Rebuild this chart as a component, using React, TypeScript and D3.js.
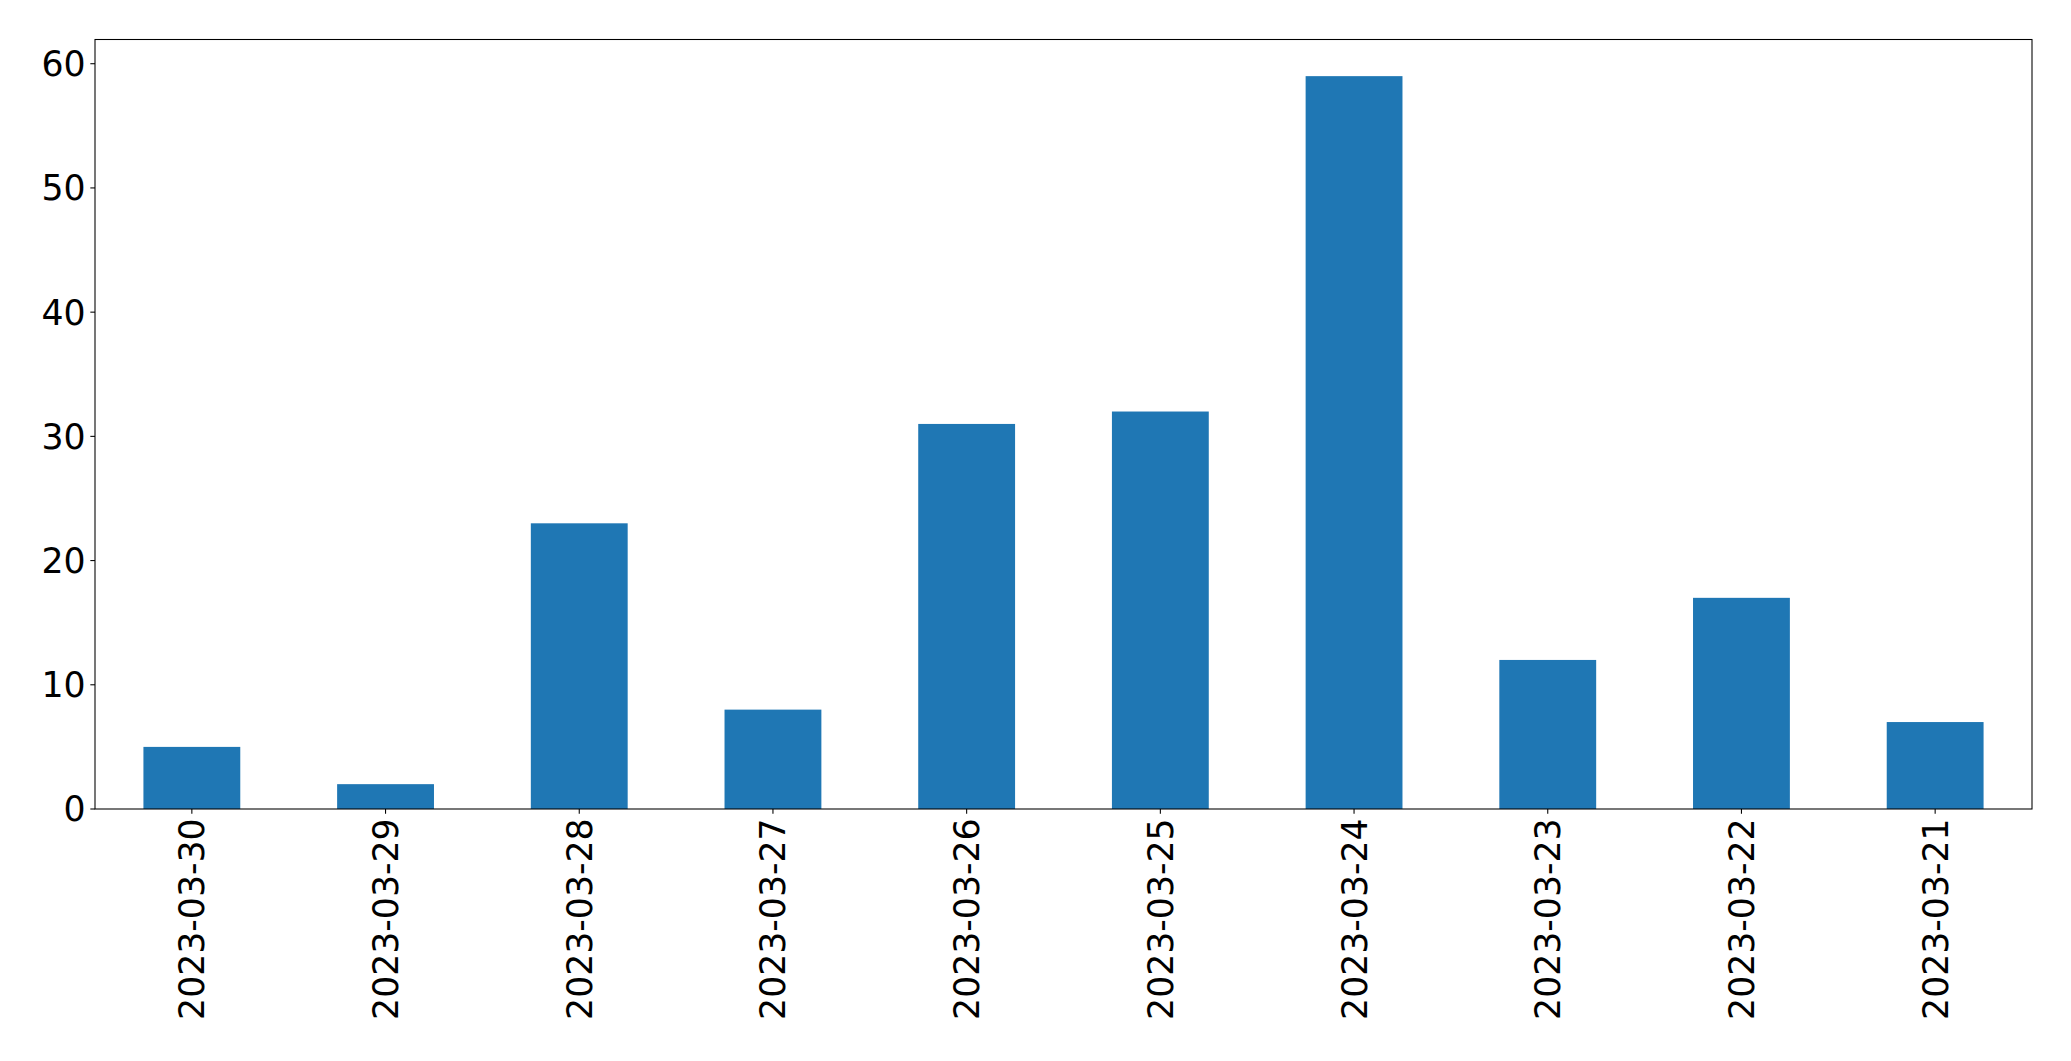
import React, { useEffect, useRef } from 'react';
import * as d3 from 'd3';

const dates = [
  '2023-03-30', '2023-03-29', '2023-03-28', '2023-03-27', '2023-03-26',
  '2023-03-25', '2023-03-24', '2023-03-23', '2023-03-22', '2023-03-21',
];
const counts = [5, 2, 23, 8, 31, 32, 59, 12, 17, 7];
const yTicks = [0, 10, 20, 30, 40, 50, 60];

const width = 2071;
const height = 1061;
const margin = { top: 39.5, right: 39, bottom: 252, left: 95 };
const fontSize = 34.7;
const tickLen = 4.67;
const pad = 4.67;

const App: React.FC = () => {
  const svgRef = useRef<SVGSVGElement>(null);

  useEffect(() => {
    document.body.style.margin = '0';
    if (!svgRef.current) return;
    const svg = d3.select(svgRef.current);
    svg.selectAll('*').remove();

    const x0 = margin.left;
    const x1 = width - margin.right;
    const y0 = height - margin.bottom;
    const y1 = margin.top;

    // pandas-style bar plot: xlim -0.5..n-0.5, bar width 0.5
    const x = d3.scaleLinear().domain([-0.5, dates.length - 0.5]).range([x0, x1]);
    const yMax = d3.max(counts)! * 1.05;
    const y = d3.scaleLinear().domain([0, yMax]).range([y0, y1]);

    const g = svg.append('g');

    g.selectAll('rect.bar')
      .data(counts)
      .join('rect')
      .attr('class', 'bar')
      .attr('x', (_, i) => x(i - 0.25))
      .attr('width', x(0.25) - x(-0.25))
      .attr('y', d => y(d))
      .attr('height', d => y(0) - y(d))
      .attr('fill', '#1f77b4');

    // frame
    g.append('rect')
      .attr('x', x0)
      .attr('y', y1)
      .attr('width', x1 - x0)
      .attr('height', y0 - y1)
      .attr('fill', 'none')
      .attr('stroke', '#000')
      .attr('stroke-width', 1.07);

    // y ticks
    const yt = g.append('g');
    yTicks.forEach(t => {
      yt.append('line')
        .attr('x1', x0 - tickLen).attr('x2', x0)
        .attr('y1', y(t)).attr('y2', y(t))
        .attr('stroke', '#000').attr('stroke-width', 1.07);
      yt.append('text')
        .attr('x', x0 - tickLen - pad)
        .attr('y', y(t))
        .attr('dy', '0.36em')
        .attr('text-anchor', 'end')
        .attr('font-family', 'DejaVu Sans')
        .attr('font-size', fontSize)
        .attr('fill', '#000')
        .text(t);
    });

    // x ticks
    const xt = g.append('g');
    dates.forEach((d, i) => {
      xt.append('line')
        .attr('x1', x(i)).attr('x2', x(i))
        .attr('y1', y0).attr('y2', y0 + tickLen)
        .attr('stroke', '#000').attr('stroke-width', 1.07);
      xt.append('text')
        .attr('transform', `translate(${x(i)},${y0 + tickLen + pad}) rotate(-90)`)
        .attr('dy', '0.36em')
        .attr('text-anchor', 'end')
        .attr('font-family', 'DejaVu Sans')
        .attr('font-size', fontSize)
        .attr('fill', '#000')
        .text(d);
    });
  }, []);

  return (
    <svg
      ref={svgRef}
      width={width}
      height={height}
      style={{ display: 'block', background: '#fff' }}
    />
  );
};

export default App;
